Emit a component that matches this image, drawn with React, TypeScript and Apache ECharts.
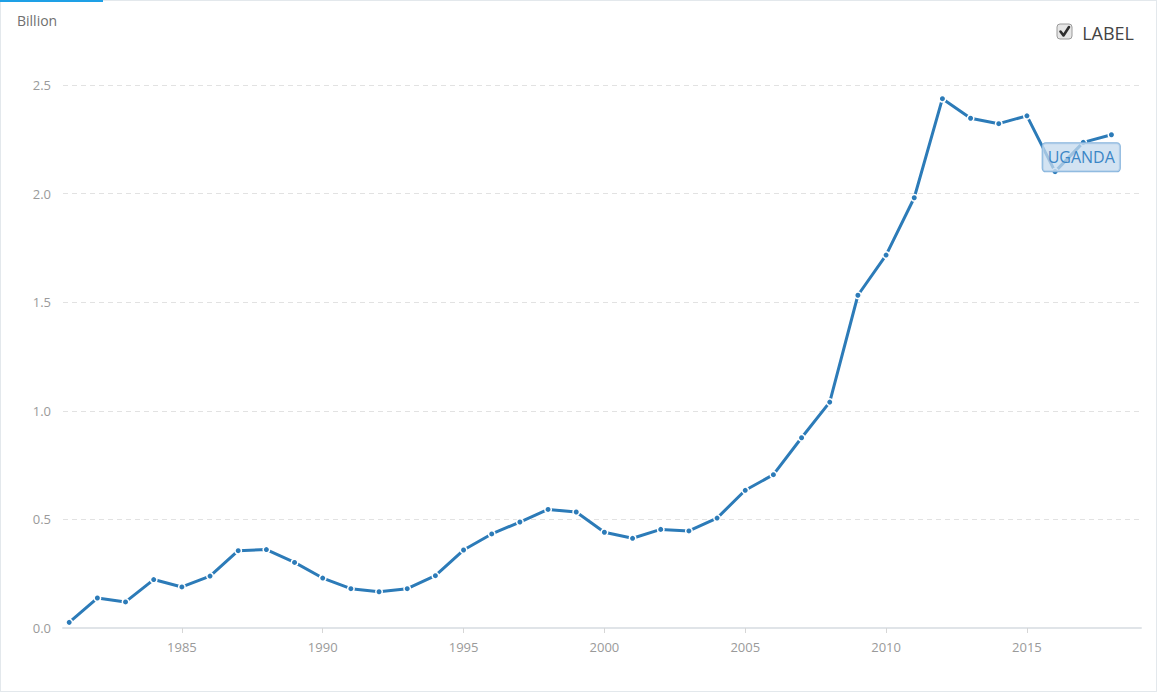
import React, { useEffect, useRef } from "react";
import * as echarts from "echarts";

const years = [
  1981, 1982, 1983, 1984, 1985, 1986, 1987, 1988, 1989, 1990,
  1991, 1992, 1993, 1994, 1995, 1996, 1997, 1998, 1999, 2000,
  2001, 2002, 2003, 2004, 2005, 2006, 2007, 2008, 2009, 2010,
  2011, 2012, 2013, 2014, 2015, 2016, 2017, 2018,
];
const values = [
  0.026, 0.138, 0.12, 0.223, 0.189, 0.239, 0.356, 0.361, 0.302, 0.23,
  0.181, 0.167, 0.181, 0.241, 0.359, 0.433, 0.488, 0.546, 0.534, 0.441,
  0.413, 0.454, 0.447, 0.506, 0.634, 0.706, 0.876, 1.04, 1.532, 1.717,
  1.981, 2.437, 2.347, 2.322, 2.358, 2.101, 2.236, 2.271,
];
const xTickYears = [1985, 1990, 1995, 2000, 2005, 2010, 2015];
const seriesName = "LABEL";
const countryLabel = "UGANDA";
const labelYear = 2017;
const unitName = "Billion";

const FONT = "'Open Sans', 'Noto Sans', sans-serif";

export default function App() {
  const ref = useRef<HTMLDivElement>(null);

  useEffect(() => {
    document.body.style.margin = "0";
    if (!ref.current) return;
    const chart = echarts.init(ref.current, undefined, { renderer: "svg" });
    const data = years.map((y, i) => {
      const item: any = { value: [y, values[i]] };
      if (y === labelYear) {
        item.label = {
          show: true,
          formatter: countryLabel,
          position: "inside",
          offset: [-2, 15],
          color: "#3b86c6",
          fontSize: 16,
          fontFamily: FONT,
          lineHeight: 20,
          backgroundColor: "rgba(196,218,238,0.75)",
          borderColor: "#86b4dd",
          borderWidth: 1,
          borderRadius: 3,
          padding: [4, 5],
        };
      }
      return item;
    });
    chart.setOption({
      animation: false,
      textStyle: { fontFamily: FONT },
      grid: { left: 63, right: 16, top: 85, bottom: 64, containLabel: false },
      legend: {
        data: [seriesName],
        right: 18,
        top: 19,
        icon: "rect",
        itemWidth: 16,
        itemHeight: 16,
        itemGap: 8,
        itemStyle: { color: "rgba(0,0,0,0)", borderWidth: 0 },
        textStyle: { color: "#444", fontSize: 18, fontFamily: FONT, padding: [0, 0, 0, 3] },
        selectedMode: false,
      },
      graphic: [
        {
          type: "text",
          left: 17,
          top: 13,
          style: { text: unitName, fill: "#6f6f6f", fontSize: 14, fontFamily: FONT },
        },
        {
          type: "rect",
          shape: { x: 1057, y: 24, width: 15, height: 15, r: 3 },
          style: { fill: "#e6e6e6", stroke: "#9a9a9a", lineWidth: 1 },
          z: 100,
        },
        {
          type: "polyline",
          shape: { points: [[1060.5, 31.5], [1063.5, 35.5], [1069, 27]] },
          style: { stroke: "#2f2f2f", lineWidth: 2.6, fill: null, lineCap: "round", lineJoin: "round" },
          z: 101,
        },
      ],
      xAxis: {
        type: "value",
        min: 1980.78,
        max: 2019.05,
        axisLine: { show: true, lineStyle: { color: "#e0e4e8", width: 2 } },
        axisTick: { show: true, length: 5, customValues: xTickYears, lineStyle: { color: "#d6d6d6" } },
        splitLine: { show: false },
        axisLabel: {
          color: "#9a9a9a",
          fontSize: 13,
          margin: 12,
          fontFamily: FONT,
          customValues: xTickYears,
          formatter: (v: number) => String(v),
        },
      },
      yAxis: {
        type: "value",
        min: 0,
        max: 2.5,
        interval: 0.5,
        axisLine: { show: false },
        axisTick: { show: false },
        splitLine: { show: true, lineStyle: { color: "#e2e2e2", type: [5, 4], width: 1 } },
        axisLabel: {
          color: "#9a9a9a",
          fontSize: 13,
          margin: 12,
          fontFamily: FONT,
          formatter: (v: number) => v.toFixed(1),
        },
      },
      series: [
        {
          name: seriesName,
          type: "line",
          data,
          lineStyle: { color: "#2c7bb8", width: 3 },
          itemStyle: { color: "#2c7bb8", borderColor: "#ffffff", borderWidth: 1.5 },
          symbol: "circle",
          symbolSize: 6.5,
          showSymbol: true,
          z: 3,
        },
      ],
    });
    return () => chart.dispose();
  }, []);

  return (
    <div
      style={{
        position: "relative",
        width: 1157,
        height: 692,
        boxSizing: "border-box",
        border: "1px solid #e3e8ec",
        background: "#fff",
      }}
    >
      <div style={{ position: "absolute", left: -1, top: -1, width: 103, height: 2, background: "#1ea0e6", zIndex: 2 }} />
      <div ref={ref} style={{ position: "absolute", left: -1, top: -1, width: 1157, height: 692 }} />
    </div>
  );
}
